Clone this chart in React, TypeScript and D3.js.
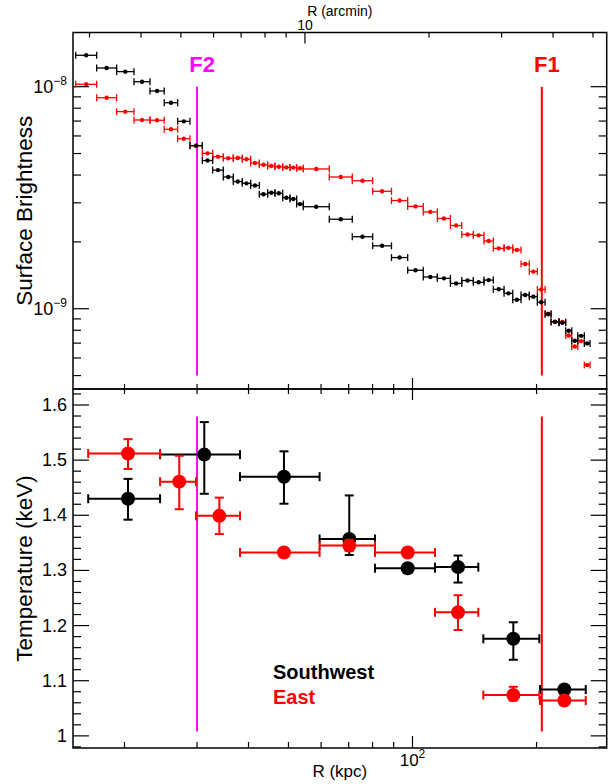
import React from 'react';
import * as d3 from 'd3';

const W = 611;
const H = 784;

// Shock / front positions (kpc)
const frontNames = ['F2', 'F1'];
const frontKpc = [30, 206];
const frontColors = ['#ff00ff', '#ff0000'];

// Conversion kpc per arcmin
const kpcPerArcmin = 5.483;

// Surface brightness profile: bin edges (kpc)
const sbEdges = [
  15.23, 17.12, 19.14, 21.09, 23.06, 24.97, 26.92, 28.84, 30.9, 32.74,
  34.74, 36.73, 38.63, 40.48, 42.48, 44.51, 46.37, 48.42, 50.43, 52.35,
  54.32, 62.81, 71.42, 80.06, 88.92, 97.35, 106.2, 114.9, 123.6, 131.7,
  140.5, 149.1, 157.1, 166.8, 175.1, 183.4, 192.1, 200.9, 209.8, 216.9,
  226.8, 235.4, 243.5, 251.8, 261.2, 269.7,
];
const sbSouthwest = [
  1.385e-8, 1.214e-8, 1.169e-8, 1.053e-8, 9.56e-9, 8.47e-9, 6.98e-9, 5.43e-9, 4.65e-9, 4.21e-9,
  3.92e-9, 3.74e-9, 3.67e-9, 3.59e-9, 3.28e-9, 3.33e-9, 3.31e-9, 3.16e-9, 3.12e-9, 2.96e-9,
  2.88e-9, 2.53e-9, 2.11e-9, 1.92e-9, 1.70e-9, 1.49e-9, 1.39e-9, 1.37e-9, 1.30e-9, 1.34e-9,
  1.315e-9, 1.346e-9, 1.223e-9, 1.173e-9, 1.098e-9, 1.153e-9, 1.133e-9, 1.069e-9, 9.44e-10, 8.74e-10,
  8.65e-10, 7.96e-10, 7.18e-10, 7.55e-10, 6.98e-10,
];
const sbEast = [
  1.025e-8, 8.92e-9, 7.72e-9, 7.08e-9, 7.06e-9, 6.43e-9, 5.83e-9, 5.41e-9, 5.01e-9, 4.84e-9,
  4.76e-9, 4.77e-9, 4.71e-9, 4.53e-9, 4.45e-9, 4.39e-9, 4.36e-9, 4.33e-9, 4.32e-9, 4.29e-9,
  4.26e-9, 3.92e-9, 3.77e-9, 3.38e-9, 3.07e-9, 2.89e-9, 2.73e-9, 2.55e-9, 2.37e-9, 2.16e-9,
  2.14e-9, 2.02e-9, 1.87e-9, 1.88e-9, 1.84e-9, 1.59e-9, 1.47e-9, 1.22e-9, 9.5e-10, 8.71e-10,
  8.71e-10, 7.57e-10, 6.76e-10, 7.15e-10, 5.58e-10,
];

// Temperature profile: Southwest
const tswR = [20.4, 31.24, 48.76, 70.23, 97.35, 128.97, 175.67, 233.6];
const tswLo = [16.33, 24.4, 38.14, 59.5, 81.1, 113.4, 148.55, 203.9];
const tswHi = [24.4, 38.14, 59.5, 81.1, 113.4, 144.45, 203.15, 263.3];
const tswT = [1.430, 1.510, 1.470, 1.357, 1.304, 1.306, 1.176, 1.084];
const tswErrUp = [0.036, 0.059, 0.046, 0.079, 0.005, 0.021, 0.030, 0.005];
const tswErrDn = [0.038, 0.071, 0.049, 0.029, 0.005, 0.028, 0.038, 0.005];

// Temperature profile: East
const teR = [20.4, 27.16, 33.98, 48.76, 70.23, 97.35, 128.97, 175.67, 233.6];
const teLo = [16.33, 24.4, 29.82, 38.14, 59.5, 81.1, 113.4, 148.55, 203.9];
const teHi = [24.4, 29.82, 38.14, 59.5, 81.1, 113.4, 144.45, 203.15, 263.3];
const teT = [1.512, 1.461, 1.399, 1.3325, 1.345, 1.3325, 1.224, 1.074, 1.064];
const teErrUp = [0.026, 0.047, 0.033, 0.004, 0.01, 0.004, 0.031, 0.015, 0.005];
const teErrDn = [0.028, 0.050, 0.033, 0.004, 0.01, 0.004, 0.032, 0.010, 0.005];

// Axis ticks
const kpcTicks = [20, 30, 40, 50, 60, 70, 80, 90, 100, 200];
const arcminTicks = [3, 4, 5, 6, 7, 8, 9, 10, 20, 30, 40, 50];
const sbTicks = [5e-10, 6e-10, 7e-10, 8e-10, 9e-10, 1e-9, 2e-9, 3e-9, 4e-9, 5e-9, 6e-9, 7e-9, 8e-9, 9e-9, 1e-8];
const sbMajor = [1e-9, 1e-8];
const tMajor = [1.0, 1.1, 1.2, 1.3, 1.4, 1.5, 1.6];

const kpcDomain = [15, 296];
const sbDomain = [4.35e-10, 1.754e-8];
const tDomain = [0.978, 1.629];
const frontSbExtent = [5e-10, 1e-8];
const frontTExtent = [1.008, 1.579];

const legendNames = ['Southwest', 'East'];
const legendColors = ['#000000', '#ff0000'];

const FONT = '"Liberation Sans", Arial, Helvetica, sans-serif';

export default function App() {
  const L = 73, R = 606.7, T0 = 32.5, MID = 389, B = 748;
  const x = d3.scaleLog().domain(kpcDomain).range([L, R]);
  const xa = d3.scaleLog().domain([kpcDomain[0] / kpcPerArcmin, kpcDomain[1] / kpcPerArcmin]).range([L, R]);
  const ySB = d3.scaleLog().domain(sbDomain).range([MID, T0]);
  const yT = d3.scaleLinear().domain(tDomain).range([B, MID]);

  const tMinor = d3.range(0, 33).map((i) => 0.98 + i * 0.02).filter((v) => v <= tDomain[1] && Math.abs(v * 10 - Math.round(v * 10)) > 1e-6);

  const sbBins = sbSouthwest.map((_, i) => ({ lo: sbEdges[i], hi: sbEdges[i + 1] }));

  const drawSB = (vals: number[], color: string, key: string) => (
    <g key={key} stroke={color} fill={color}>
      {vals.map((v, i) => {
        const x0 = x(sbBins[i].lo), x1 = x(sbBins[i].hi);
        const xc = (x0 + x1) / 2;
        const yy = ySB(v);
        return (
          <g key={i}>
            <line x1={x0} x2={x1} y1={yy} y2={yy} strokeWidth={1.3} />
            <line x1={x0} x2={x0} y1={yy - 3.5} y2={yy + 3.5} strokeWidth={1.3} />
            <line x1={x1} x2={x1} y1={yy - 3.5} y2={yy + 3.5} strokeWidth={1.3} />
            <circle cx={xc} cy={yy} r={2.2} stroke="none" />
          </g>
        );
      })}
    </g>
  );

  const drawT = (r: number[], lo: number[], hi: number[], t: number[], up: number[], dn: number[], color: string, key: string) => (
    <g key={key} stroke={color} fill={color}>
      {r.map((rv, i) => {
        const xc = x(rv), x0 = x(lo[i]), x1 = x(hi[i]);
        const yc = yT(t[i]), y0 = yT(t[i] + up[i]), y1 = yT(t[i] - dn[i]);
        return (
          <g key={i}>
            <line x1={x0} x2={x1} y1={yc} y2={yc} strokeWidth={2} />
            <line x1={x0} x2={x0} y1={yc - 4.5} y2={yc + 4.5} strokeWidth={2} />
            <line x1={x1} x2={x1} y1={yc - 4.5} y2={yc + 4.5} strokeWidth={2} />
            <line x1={xc} x2={xc} y1={y0} y2={y1} strokeWidth={2} />
            <line x1={xc - 4.5} x2={xc + 4.5} y1={y0} y2={y0} strokeWidth={2} />
            <line x1={xc - 4.5} x2={xc + 4.5} y1={y1} y2={y1} strokeWidth={2} />
            <circle cx={xc} cy={yc} r={7} stroke="none" />
          </g>
        );
      })}
    </g>
  );

  const tickStroke = '#000';

  return (
    <svg width={W} height={H} style={{ position: 'absolute', left: 0, top: 0, background: '#fff' }} fontFamily={FONT}>
      <rect x={0} y={0} width={W} height={H} fill="#fff" />

      {/* Top axis (arcmin) */}
      <g stroke={tickStroke} strokeWidth={1.2}>
        {arcminTicks.map((v) => (
          <line key={'at' + v} x1={xa(v)} x2={xa(v)} y1={T0} y2={T0 + (v === 10 ? 11 : 5)} />
        ))}
      </g>
      <text x={xa(10)} y={30} fontSize={14} textAnchor="middle">10</text>
      <text x={(L + R) / 2} y={16} fontSize={14} textAnchor="middle">R (arcmin)</text>

      {/* Top panel bottom edge ticks */}
      <g stroke={tickStroke} strokeWidth={1.2}>
        {kpcTicks.map((v) => (
          <line key={'tb' + v} x1={x(v)} x2={x(v)} y1={MID} y2={MID - (v === 100 ? 11 : 5)} />
        ))}
      </g>

      {/* SB y ticks */}
      <g stroke={tickStroke} strokeWidth={1.2}>
        {sbTicks.map((v) => {
          const len = sbMajor.includes(v) ? 16 : 8;
          return (
            <g key={'sy' + v}>
              <line x1={L} x2={L + len} y1={ySB(v)} y2={ySB(v)} />
              <line x1={R} x2={R - len} y1={ySB(v)} y2={ySB(v)} />
            </g>
          );
        })}
      </g>
      {sbMajor.map((v) => (
        <text key={'sl' + v} x={67} y={ySB(v) + 6} fontSize={18} textAnchor="end">
          10<tspan dy={-8} fontSize={12}>{v === 1e-8 ? '\u22128' : '\u22129'}</tspan>
        </text>
      ))}
      <text transform={`translate(32,${(T0 + MID) / 2}) rotate(-90)`} fontSize={22.5} textAnchor="middle">Surface Brightness</text>

      {/* Front lines top panel */}
      {frontKpc.map((k, i) => (
        <g key={'ft' + i}>
          <line x1={x(k)} x2={x(k)} y1={ySB(frontSbExtent[1])} y2={ySB(frontSbExtent[0])} stroke={frontColors[i]} strokeWidth={2} />
          <text x={x(k) + 5} y={72} fontSize={22} fontWeight="bold" fill={frontColors[i]} textAnchor="middle">{frontNames[i]}</text>
        </g>
      ))}

      {drawSB(sbEast, '#ff0000', 'sbE')}
      {drawSB(sbSouthwest, '#000000', 'sbSW')}

      {/* Bottom panel */}
      <g stroke={tickStroke} strokeWidth={1.2}>
        {kpcTicks.map((v) => (
          <g key={'bt' + v}>
            <line x1={x(v)} x2={x(v)} y1={MID} y2={MID + (v === 100 ? 11 : 5)} />
            <line x1={x(v)} x2={x(v)} y1={B} y2={B - (v === 100 ? 12 : 6)} />
          </g>
        ))}
        {tMajor.map((v) => (
          <g key={'tm' + v}>
            <line x1={L} x2={L + 16} y1={yT(v)} y2={yT(v)} />
            <line x1={R} x2={R - 16} y1={yT(v)} y2={yT(v)} />
          </g>
        ))}
        {tMinor.map((v) => (
          <g key={'tn' + v}>
            <line x1={L} x2={L + 8} y1={yT(v)} y2={yT(v)} />
            <line x1={R} x2={R - 8} y1={yT(v)} y2={yT(v)} />
          </g>
        ))}
      </g>
      {tMajor.map((v) => (
        <text key={'tl' + v} x={67} y={yT(v) + 6} fontSize={18} textAnchor="end">{v === 1 ? '1' : v.toFixed(1)}</text>
      ))}
      <text transform={`translate(32,${(MID + B) / 2}) rotate(-90)`} fontSize={22.5} textAnchor="middle">Temperature (keV)</text>

      {frontKpc.map((k, i) => (
        <line key={'fb' + i} x1={x(k)} x2={x(k)} y1={yT(frontTExtent[1])} y2={yT(frontTExtent[0])} stroke={frontColors[i]} strokeWidth={2} />
      ))}

      {drawT(tswR, tswLo, tswHi, tswT, tswErrUp, tswErrDn, '#000000', 'tSW')}
      {drawT(teR, teLo, teHi, teT, teErrUp, teErrDn, '#ff0000', 'tE')}

      {legendNames.map((n, i) => (
        <text key={n} x={273} y={679 + i * 25} fontSize={20} fontWeight="bold" fill={legendColors[i]}>{n}</text>
      ))}

      <text x={x(100)} y={766} fontSize={17} textAnchor="middle">
        10<tspan dy={-8} fontSize={12}>2</tspan>
      </text>
      <text x={(L + R) / 2} y={777} fontSize={17} textAnchor="middle">R (kpc)</text>

      {/* Frames */}
      <rect x={L} y={T0} width={R - L} height={MID - T0} fill="none" stroke="#000" strokeWidth={1.5} />
      <rect x={L} y={MID} width={R - L} height={B - MID} fill="none" stroke="#000" strokeWidth={1.5} />
    </svg>
  );
}
